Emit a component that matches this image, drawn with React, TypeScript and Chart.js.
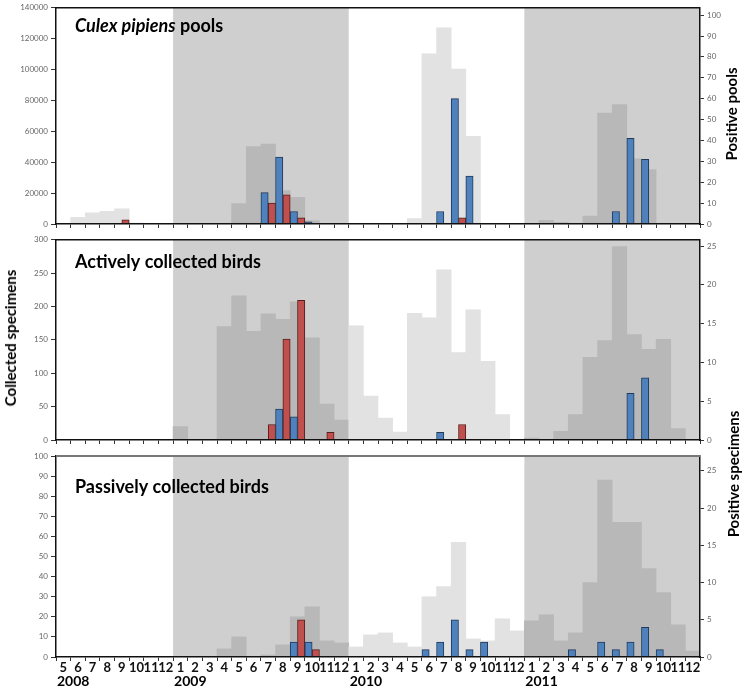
import React, { useEffect, useRef } from 'react';
import { Chart, registerables } from 'chart.js';

Chart.register(...registerables);

// ---------- data ----------
const monthLabels = [
  '5', '6', '7', '8', '9', '10', '11', '12',
  '1', '2', '3', '4', '5', '6', '7', '8', '9', '10', '11', '12',
  '1', '2', '3', '4', '5', '6', '7', '8', '9', '10', '11', '12',
  '1', '2', '3', '4', '5', '6', '7', '8', '9', '10', '11', '12',
];
const yearLabels = ['2008', '2009', '2010', '2011'];
const yearStarts = [0, 8, 20, 32];
const shadedYears = ['2009', '2011'];

// Culex pipiens pools
const culexCollected = [
  0, 4300, 7300, 8200, 9900, 600, 0, 0,
  0, 0, 0, 0, 13300, 50200, 51700, 21700, 17200, 2200, 0, 0,
  0, 0, 0, 0, 3500, 110200, 127100, 100300, 56800, 0, 0, 0,
  0, 2400, 1100, 0, 5200, 71800, 77400, 42200, 35200, 0, 0, 0,
];
const culexPositiveBlue = [
  0, 0, 0, 0, 0, 0, 0, 0,
  0, 0, 0, 0, 0, 0, 15, 32, 6, 1, 0, 0,
  0, 0, 0, 0, 0, 0, 6, 60, 23, 0, 0, 0,
  0, 0, 0, 0, 0, 0, 6, 41, 31, 0, 0, 0,
];
const culexPositiveRed = [
  0, 0, 0, 0, 2, 0, 0, 0,
  0, 0, 0, 0, 0, 0, 10, 14, 3, 0, 0, 0,
  0, 0, 0, 0, 0, 0, 0, 3, 0, 0, 0, 0,
  0, 0, 0, 0, 0, 0, 0, 0, 0, 0, 0, 0,
];

// Actively collected birds
const activeCollected = [
  0, 0, 0, 0, 0, 0, 0, 0,
  20, 0, 0, 170, 216, 163, 189, 181, 207, 153, 54, 30,
  171, 66, 33, 12, 190, 183, 255, 131, 195, 118, 38, 0,
  3, 0, 13, 38, 124, 149, 290, 158, 136, 151, 17, 0,
];
const activePositiveBlue = [
  0, 0, 0, 0, 0, 0, 0, 0,
  0, 0, 0, 0, 0, 0, 0, 4, 3, 0, 0, 0,
  0, 0, 0, 0, 0, 0, 1, 0, 0, 0, 0, 0,
  0, 0, 0, 0, 0, 0, 0, 6, 8, 0, 0, 0,
];
const activePositiveRed = [
  0, 0, 0, 0, 0, 0, 0, 0,
  0, 0, 0, 0, 0, 0, 2, 13, 18, 0, 1, 0,
  0, 0, 0, 0, 0, 0, 0, 2, 0, 0, 0, 0,
  0, 0, 0, 0, 0, 0, 0, 0, 0, 0, 0, 0,
];

// Passively collected birds
const passiveCollected = [
  0, 0, 0, 0, 0, 0, 0, 0,
  0, 0, 0, 4, 10, 0, 1, 6, 20, 25, 8, 7,
  5, 11, 12, 7, 5, 30, 35, 57, 9, 8, 19, 13,
  18, 21, 8, 12, 37, 88, 67, 67, 44, 32, 16, 3,
];
const passivePositiveBlue = [
  0, 0, 0, 0, 0, 0, 0, 0,
  0, 0, 0, 0, 0, 0, 0, 0, 2, 2, 0, 0,
  0, 0, 0, 0, 0, 1, 2, 5, 1, 2, 0, 0,
  0, 0, 0, 1, 0, 2, 1, 2, 4, 1, 0, 0,
];
const passivePositiveRed = [
  0, 0, 0, 0, 0, 0, 0, 0,
  0, 0, 0, 0, 0, 0, 0, 0, 5, 1, 0, 0,
  0, 0, 0, 0, 0, 0, 0, 0, 0, 0, 0, 0,
  0, 0, 0, 0, 0, 0, 0, 0, 0, 0, 0, 0,
];

// ---------- styling ----------
const FONT = 'Lato, "Open Sans", sans-serif';
const SHADE = '#d0cfcf';
const BAR_LIGHT = '#e2e2e2';
const BAR_DARK = '#b8b8b8';
const BLUE = '#4f81bd';
const BLUE_BORDER = '#1f3a5c';
const RED = '#c0504d';
const RED_BORDER = '#5a1e1c';

const shadedRanges: [number, number][] = shadedYears.map((y) => {
  const i = yearLabels.indexOf(y);
  const start = yearStarts[i];
  const end = i + 1 < yearStarts.length ? yearStarts[i + 1] - 1 : monthLabels.length - 1;
  return [start, end];
});
const isShaded = (i: number) => shadedRanges.some(([a, b]) => i >= a && i <= b);
const nz = (arr: number[]) => arr.map((v) => (v === 0 ? null : v));

type Seg = { text: string; italic?: boolean };
type PanelCfg = {
  top: number;
  height: number;
  padTop: number;
  padBottom: number;
  xHeight: number;
  showMonths: boolean;
  collected: number[];
  blue: number[];
  red: number[];
  leftMax: number;
  leftStep: number;
  rightMax: number;
  rightStep: number;
  title: Seg[];
  titleBaseline: number;
  frameColor: string;
  frameWidth: number;
};

const shadePlugin = {
  id: 'yearShade',
  beforeDraw(chart: any) {
    const { ctx, chartArea, scales } = chart;
    const x = scales.x;
    const half = (x.getPixelForValue(1) - x.getPixelForValue(0)) / 2;
    ctx.save();
    ctx.fillStyle = SHADE;
    for (const [a, b] of shadedRanges) {
      const x0 = x.getPixelForValue(a) - half;
      const x1 = x.getPixelForValue(b) + half;
      ctx.fillRect(x0, chartArea.top, x1 - x0, chartArea.bottom - chartArea.top);
    }
    ctx.restore();
  },
};

const decorPlugin = {
  id: 'panelDecor',
  afterDraw(chart: any, _args: any, opts: any) {
    const { ctx, chartArea, scales } = chart;
    const cfg: PanelCfg = opts.cfg;
    ctx.save();
    // top frame line
    ctx.strokeStyle = cfg.frameColor;
    ctx.lineWidth = cfg.frameWidth;
    ctx.beginPath();
    ctx.moveTo(chartArea.left, chartArea.top);
    ctx.lineTo(chartArea.right, chartArea.top);
    ctx.stroke();
    // panel title
    ctx.fillStyle = '#000';
    ctx.textBaseline = 'alphabetic';
    ctx.textAlign = 'left';
    let tx = 75;
    for (const s of cfg.title) {
      ctx.font = `${s.italic ? 'italic ' : ''}bold 18px ${FONT}`;
      ctx.fillText(s.text, tx, cfg.titleBaseline);
      tx += ctx.measureText(s.text).width;
    }
    // year labels
    if (cfg.showMonths) {
      const x = scales.x;
      const half = (x.getPixelForValue(1) - x.getPixelForValue(0)) / 2;
      ctx.font = `bold 14px ${FONT}`;
      yearLabels.forEach((yl, i) => {
        const px = x.getPixelForValue(yearStarts[i]) - half + 1;
        ctx.fillText(yl, px, chartArea.bottom + 29);
      });
    }
    ctx.restore();
  },
};

function buildConfig(cfg: PanelCfg): any {
  const tickFont = { family: FONT, size: 8 };
  return {
    type: 'bar',
    data: {
      labels: monthLabels,
      datasets: [
        {
          label: 'Collected',
          data: nz(cfg.collected),
          backgroundColor: cfg.collected.map((_, i) => (isShaded(i) ? BAR_DARK : BAR_LIGHT)),
          borderWidth: 0,
          grouped: false,
          categoryPercentage: 1,
          barPercentage: 1,
          yAxisID: 'y',
          order: 2,
        },
        {
          label: 'Positive (blue)',
          data: nz(cfg.blue),
          backgroundColor: BLUE,
          borderColor: BLUE_BORDER,
          borderWidth: 1,
          borderSkipped: 'start',
          categoryPercentage: 1,
          barPercentage: 1,
          yAxisID: 'y2',
          order: 1,
        },
        {
          label: 'Positive (red)',
          data: nz(cfg.red),
          backgroundColor: RED,
          borderColor: RED_BORDER,
          borderWidth: 1,
          borderSkipped: 'start',
          categoryPercentage: 1,
          barPercentage: 1,
          yAxisID: 'y2',
          order: 1,
        },
      ],
    },
    options: {
      responsive: false,
      maintainAspectRatio: false,
      animation: false,
      layout: { padding: { top: cfg.padTop, bottom: cfg.padBottom, left: 0, right: 0 } },
      plugins: {
        legend: { display: false },
        tooltip: { enabled: false },
        panelDecor: { cfg },
      },
      scales: {
        x: {
          offset: true,
          grid: { z: 1, offset: true, drawOnChartArea: false, drawTicks: true, tickLength: 4, color: '#333' },
          border: { z: 1, display: true, color: '#111', width: 1.5 },
          ticks: {
            z: 1,
            display: cfg.showMonths,
            autoSkip: false,
            maxRotation: 0,
            minRotation: 0,
            padding: 0,
            color: '#111',
            font: { family: FONT, size: 13, weight: 'bold', lineHeight: 1 },
          },
          afterFit: (s: any) => {
            s.height = cfg.xHeight;
          },
        },
        y: {
          position: 'left',
          min: 0,
          max: cfg.leftMax,
          grid: { z: 1, drawOnChartArea: false, tickLength: 5, color: '#333' },
          border: { z: 1, display: true, color: '#111', width: 1.5 },
          ticks: {
            z: 1,
            stepSize: cfg.leftStep,
            color: '#666',
            padding: 3,
            font: tickFont,
            callback: (v: any) => String(v),
          },
          afterFit: (s: any) => {
            s.width = 56;
          },
        },
        y2: {
          position: 'right',
          min: 0,
          max: cfg.rightMax,
          grid: { z: 1, drawOnChartArea: false, tickLength: 4, color: '#333' },
          border: { z: 1, display: true, color: '#111', width: 1.5 },
          ticks: {
            z: 1,
            stepSize: cfg.rightStep,
            includeBounds: false,
            color: '#666',
            padding: 3,
            font: tickFont,
            callback: (v: any) => String(v),
          },
          afterFit: (s: any) => {
            s.width = 45;
          },
        },
      },
    },
    plugins: [shadePlugin, decorPlugin],
  };
}

const panels: PanelCfg[] = [
  {
    top: 0,
    height: 232,
    padTop: 6,
    padBottom: 4,
    xHeight: 4,
    showMonths: false,
    collected: culexCollected,
    blue: culexPositiveBlue,
    red: culexPositiveRed,
    leftMax: 140000,
    leftStep: 20000,
    rightMax: 103.5,
    rightStep: 10,
    title: [{ text: 'Culex pipiens', italic: true }, { text: ' pools' }],
    titleBaseline: 32,
    frameColor: '#111',
    frameWidth: 1.5,
  },
  {
    top: 232,
    height: 216,
    padTop: 7,
    padBottom: 4,
    xHeight: 4,
    showMonths: false,
    collected: activeCollected,
    blue: activePositiveBlue,
    red: activePositiveRed,
    leftMax: 300,
    leftStep: 50,
    rightMax: 25.8,
    rightStep: 5,
    title: [{ text: 'Actively collected birds' }],
    titleBaseline: 36,
    frameColor: '#111',
    frameWidth: 1.5,
  },
  {
    top: 448,
    height: 240,
    padTop: 8,
    padBottom: 4,
    xHeight: 27,
    showMonths: true,
    collected: passiveCollected,
    blue: passivePositiveBlue,
    red: passivePositiveRed,
    leftMax: 100,
    leftStep: 10,
    rightMax: 27,
    rightStep: 5,
    title: [{ text: 'Passively collected birds' }],
    titleBaseline: 45,
    frameColor: '#777',
    frameWidth: 2,
  },
];

function Panel({ cfg }: { cfg: PanelCfg }) {
  const ref = useRef<HTMLCanvasElement | null>(null);
  useEffect(() => {
    const chart = new Chart(ref.current as HTMLCanvasElement, buildConfig(cfg));
    return () => chart.destroy();
  }, [cfg]);
  return (
    <canvas
      ref={ref}
      width={745}
      height={cfg.height}
      style={{ position: 'absolute', left: 0, top: cfg.top, width: 745, height: cfg.height }}
    />
  );
}

const axisTitleStyle = (cx: number, cy: number): React.CSSProperties => ({
  position: 'absolute',
  left: cx,
  top: cy,
  transform: 'translate(-50%, -50%) rotate(-90deg)',
  whiteSpace: 'nowrap',
  font: `bold 15px ${FONT}`,
  color: '#000',
  lineHeight: '18px',
});

export default function App() {
  return (
    <div
      style={{
        position: 'fixed',
        left: 0,
        top: 0,
        width: 745,
        height: 688,
        background: '#fff',
        overflow: 'hidden',
      }}
    >
      {panels.map((p, i) => (
        <Panel key={i} cfg={p} />
      ))}
      <div style={axisTitleStyle(10, 338)}>Collected specimens</div>
      <div style={axisTitleStyle(731, 114)}>Positive pools</div>
      <div style={axisTitleStyle(733, 474)}>Positive specimens</div>
    </div>
  );
}
